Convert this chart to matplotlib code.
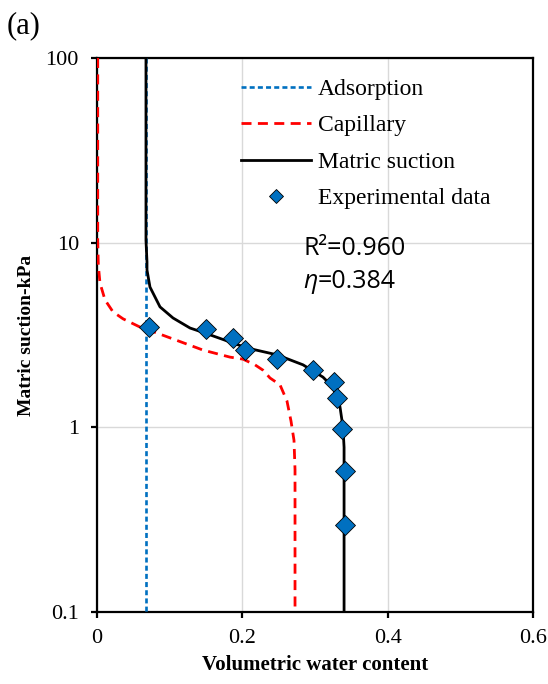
import matplotlib
matplotlib.use("Agg")
import matplotlib.pyplot as plt

# ---- data ----
adsorption_theta = [0.068, 0.068]
adsorption_suction = [100, 0.1]

capillary_theta = [0.001, 0.001, 0.0018, 0.0041, 0.011, 0.022, 0.0358, 0.0592, 0.0826,
                   0.1459, 0.183, 0.2009, 0.2174, 0.2284, 0.2381, 0.2518, 0.2614, 0.267,
                   0.2711, 0.2725, 0.2725]
capillary_suction = [100, 10.3, 7.57, 6.05, 4.90, 4.22, 3.87, 3.49, 3.24,
                     2.62, 2.40, 2.34, 2.18, 2.04, 1.85, 1.70, 1.39, 1.08,
                     0.85, 0.59, 0.1]

matric_theta = [0.0674, 0.0674, 0.0688, 0.0688, 0.0729, 0.0867, 0.1046, 0.128, 0.1486,
                0.1872, 0.2064, 0.2477, 0.2835, 0.311, 0.3248, 0.3344, 0.3385, 0.340, 0.340]
matric_suction = [100, 10.3, 7.86, 7.11, 5.75, 4.49, 3.91, 3.45, 3.24,
                  2.86, 2.69, 2.47, 2.18, 1.87, 1.65, 1.29, 1.00, 0.78, 0.1]

exp_theta = [0.072, 0.150, 0.1876, 0.2037, 0.2473, 0.2968, 0.3266, 0.3299, 0.3376, 0.3413, 0.3413]
exp_suction = [3.51, 3.40, 3.03, 2.62, 2.34, 2.05, 1.77, 1.45, 0.976, 0.58, 0.296]

x_ticks = [0, 0.2, 0.4, 0.6]
x_ticklabels = ["0", "0.2", "0.4", "0.6"]
y_ticks = [0.1, 1, 10, 100]
y_ticklabels = ["0.1", "1", "10", "100"]

serif = "Liberation Serif"

fig = plt.figure(figsize=(5.48, 6.84), dpi=100)
ax = fig.add_axes([97/548, 1-612/684, (533-97)/548, (612-58)/684])

ax.plot(adsorption_theta, adsorption_suction, color="#0070C0", lw=1.9,
        dashes=(1.9, 1.2), label="Adsorption", zorder=3)
ax.plot(capillary_theta, capillary_suction, color="#FF0000", lw=2.0,
        dashes=(3.6, 2.3), label="Capillary", zorder=3)
ax.plot(matric_theta, matric_suction, color="black", lw=2.0,
        label="Matric suction", zorder=4)
ax.plot(exp_theta, exp_suction, ls="none", marker="D", markersize=10,
        markerfacecolor="#0070C0", markeredgecolor="black", markeredgewidth=0.6,
        label="Experimental data", zorder=5)

ax.set_yscale("log")
ax.set_xlim(0, 0.6)
ax.set_ylim(0.1, 100)
ax.set_xticks(x_ticks)
ax.set_xticklabels(x_ticklabels)
ax.set_yticks(y_ticks)
ax.set_yticklabels(y_ticklabels)
ax.minorticks_off()
ax.grid(True, color="#D9D9D9", lw=1.0, zorder=0)
ax.set_axisbelow(True)

for s in ax.spines.values():
    s.set_linewidth(1.6)
    s.set_color("black")

ax.tick_params(axis="both", direction="out", length=4, width=1.6, color="black",
               labelsize=16)
ax.tick_params(axis="x", pad=8)
ax.tick_params(axis="y", pad=9)
for lab in ax.get_xticklabels() + ax.get_yticklabels():
    lab.set_fontfamily(serif)

leg = ax.legend(loc="upper left", bbox_to_anchor=(0.33, 0.963), frameon=False,
                prop={"family": serif, "size": 17}, handlelength=2.95,
                handletextpad=0.3, labelspacing=0.63, borderpad=0,
                borderaxespad=0, markerscale=0.72)

t1 = ax.text(0.4725, 0.657, "R\u00b2=0.960", transform=ax.transAxes,
             family="Open Sans", fontsize=18, ha="left", va="center")
t2 = ax.text(0.4725, 0.597, "\u03b7", transform=ax.transAxes,
             family=["Open Sans", "DejaVu Sans"], style="italic", fontsize=18,
             ha="left", va="center")
ax.annotate("=0.384", xy=(1.0, 0.5), xycoords=t2, family="Open Sans",
            fontsize=18, ha="left", va="center")

fig.text(315/548, 1-665/684, "Volumetric water content", family=serif,
         weight="bold", fontsize=15, ha="center", va="center")
fig.text(27/548, 1-335/684, "Matric suction-kPa", family=serif, weight="bold",
         fontsize=14, ha="center", va="center", rotation=90)
fig.text(24/548, 1-26/684, "(a)", family=serif, fontsize=22, ha="center", va="center")

fig.savefig("out.png", dpi=100)
